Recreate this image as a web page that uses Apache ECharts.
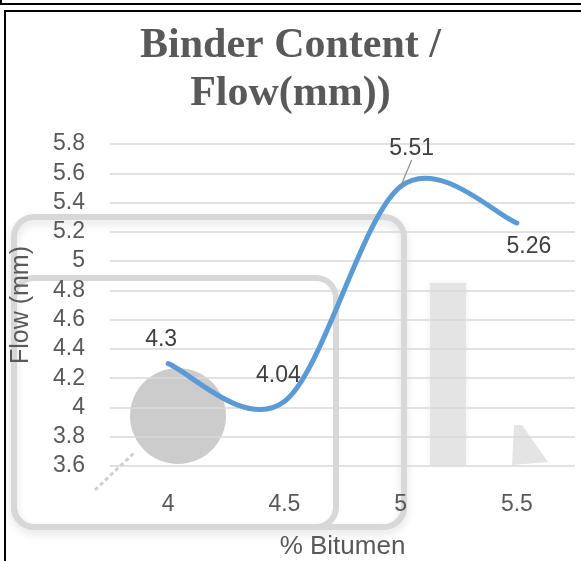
<!DOCTYPE html>
<html>
<head>
<meta charset="utf-8">
<style>
  html, body { margin: 0; padding: 0; background: #fff; }
  #chart { width: 581px; height: 561px; }
</style>
<script src="https://cdn.jsdelivr.net/npm/echarts@6/dist/echarts.min.js"></script>
</head>
<body>
<div id="chart"></div>
<script>
// Binder content (% bitumen) against Marshall flow
const binderContent = ['4', '4.5', '5', '5.5'];
const flowValues = [4.3, 4.04, 5.51, 5.26];

// per-point label nudges (dx, dy) in pixels, relative to the point
const labelShift = [[-7, -24], [-6, -26], [11, -38], [12, 24]];

const sans = 'Liberation Sans, Arial, sans-serif';
const axisGrey = '#595959';
const emblem = '#d8d8d8';

// spreadsheet-style smoothed curve: Catmull-Rom segments as cubic Beziers
function smoothPath(pts, k) {
  const n = pts.length;
  const at = i => pts[Math.max(0, Math.min(n - 1, i))];
  let d = 'M' + pts[0][0] + ',' + pts[0][1];
  for (let i = 0; i < n - 1; i++) {
    const p0 = at(i - 1), p1 = at(i), p2 = at(i + 1), p3 = at(i + 2);
    const c1 = [p1[0] + (p2[0] - p0[0]) * k, p1[1] + (p2[1] - p0[1]) * k];
    const c2 = [p2[0] - (p3[0] - p1[0]) * k, p2[1] - (p3[1] - p1[1]) * k];
    d += 'C' + c1.join(',') + ' ' + c2.join(',') + ' ' + p2.join(',');
  }
  return d;
}

const chart = echarts.init(document.getElementById('chart'), null, { renderer: 'canvas' });

chart.setOption({
  animation: false,
  backgroundColor: '#ffffff',
  title: {
    text: 'Binder Content /\nFlow(mm))',
    left: 'center',
    top: 17,
    textStyle: {
      fontFamily: 'Liberation Serif, Times New Roman, serif',
      fontWeight: 'bold',
      fontSize: 42,
      lineHeight: 48,
      color: axisGrey
    }
  },
  grid: { left: 110, right: 6, top: 144, bottom: 95, outerBoundsMode: 'none', containLabel: false },
  xAxis: {
    type: 'category',
    z: 2,
    data: binderContent,
    boundaryGap: true,
    axisLine: { show: false },
    axisTick: { show: false },
    splitLine: { show: false },
    axisLabel: { margin: 27, fontFamily: sans, fontSize: 23, color: axisGrey },
    name: '% Bitumen',
    nameLocation: 'middle',
    nameGap: 68,
    nameTextStyle: { fontFamily: sans, fontSize: 26, color: axisGrey }
  },
  yAxis: {
    type: 'value',
    z: 2,
    min: 3.6,
    max: 5.8,
    interval: 0.2,
    axisLine: { show: false },
    axisTick: { show: false },
    splitLine: { lineStyle: { color: '#d9d9d9', width: 1.5 } },
    axisLabel: {
      margin: 25,
      fontFamily: sans,
      fontSize: 23,
      color: axisGrey,
      formatter: v => String(Math.round(v * 10) / 10)
    },
    name: 'Flow (mm)',
    nameLocation: 'middle',
    nameGap: 76,
    nameRotate: 90,
    nameTextStyle: { fontFamily: sans, fontSize: 25, color: axisGrey }
  },
  graphic: [
    // page frames
    { type: 'line', z: 10, shape: { x1: 0, y1: 4, x2: 581, y2: 4 }, style: { stroke: '#000', lineWidth: 2 } },
    { type: 'line', z: 10, shape: { x1: 1, y1: 0, x2: 1, y2: 4 }, style: { stroke: '#000', lineWidth: 2 } },
    { type: 'rect', z: 10, shape: { x: 5, y: 11, width: 600, height: 600 }, style: { fill: 'none', stroke: '#000', lineWidth: 2 } },
    // faint grey emblem behind the plot
    { type: 'rect', z: 1, shape: { x: 14, y: 217, width: 390, height: 310, r: 20 },
      style: { fill: 'none', stroke: emblem, lineWidth: 6, shadowBlur: 8, shadowOffsetY: 4, shadowColor: 'rgba(0,0,0,0.12)' } },
    { type: 'rect', z: 1, shape: { x: 14, y: 278, width: 322, height: 249, r: 20 },
      style: { fill: 'none', stroke: emblem, lineWidth: 6 } },
    { type: 'circle', z: 1, shape: { cx: 178, cy: 416, r: 48 }, style: { fill: '#cccccc' } },
    { type: 'line', z: 1, shape: { x1: 95, y1: 490, x2: 135, y2: 452 }, style: { stroke: '#d0d0d0', lineWidth: 3, lineDash: [4, 3] } },
    { type: 'rect', z: 1, shape: { x: 430, y: 283, width: 36, height: 182 },
      style: { fill: '#e4e4e4', shadowBlur: 6, shadowColor: 'rgba(0,0,0,0.08)' } },
    { type: 'polygon', z: 1, shape: { points: [[512, 465], [514, 425], [522, 425], [548, 462]] }, style: { fill: '#e4e4e4' } }
  ],
  series: [
    {
      // the smoothed flow curve
      type: 'custom',
      z: 3,
      silent: true,
      data: flowValues.map((v, i) => [i, v]),
      encode: { x: 0, y: 1 },
      renderItem: (params, api) => {
        if (params.dataIndex !== 0) return null;
        const pts = flowValues.map((v, i) => api.coord([i, v]));
        return {
          type: 'path',
          shape: { pathData: smoothPath(pts, 1 / 6) },
          style: { fill: 'none', stroke: '#5b9bd5', lineWidth: 5, lineCap: 'round', lineJoin: 'round' }
        };
      }
    },
    {
      // value labels at each point
      type: 'line',
      z: 4,
      silent: true,
      data: flowValues.map((v, i) => ({ value: v, labelLine: { show: i === 2 } })),
      symbol: 'circle',
      symbolSize: 1,
      itemStyle: { color: 'rgba(0,0,0,0)' },
      lineStyle: { color: 'rgba(0,0,0,0)', width: 0 },
      label: {
        show: true,
        position: 'inside',
        fontFamily: sans,
        fontSize: 23,
        color: '#404040'
      },
      labelLine: { lineStyle: { color: '#8c8c8c', width: 1.2 } },
      labelLayout: p => ({ dx: labelShift[p.dataIndex][0], dy: labelShift[p.dataIndex][1] })
    }
  ]
});
</script>
</body>
</html>
